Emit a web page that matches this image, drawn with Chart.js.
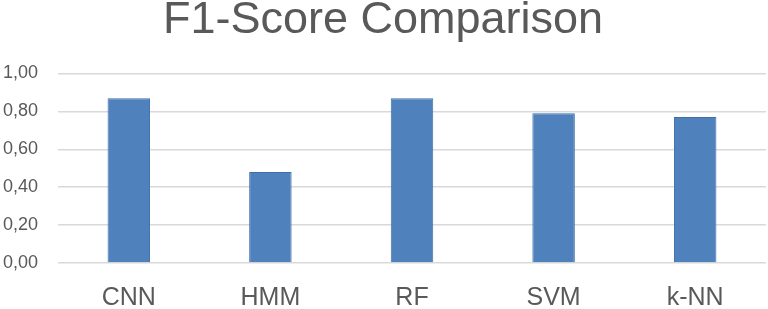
<!DOCTYPE html>
<html>
<head>
<meta charset="utf-8">
<script src="https://cdn.jsdelivr.net/npm/chart.js@4/dist/chart.umd.min.js"></script>
<style>
 html,body{margin:0;padding:0;background:#fff;}
 #wrap{width:768px;height:309px;}
</style>
</head>
<body>
<div id="wrap"><canvas id="chart"></canvas></div>
<script>
const categories=['CNN','HMM','RF','SVM','k-NN'];
const f1Scores=[0.87,0.48,0.87,0.79,0.77];
const yTicks=[0,0.2,0.4,0.6,0.8,1.0];

const textColor='#595959';
const font='Liberation Sans, Arial, sans-serif';

new Chart(document.getElementById('chart'),{
 type:'bar',
 data:{
  labels:categories,
  datasets:[{
   label:'F1-Score',
   data:f1Scores,
   backgroundColor:'#4f81bd',
   borderColor:'#3f6fa9',
   borderWidth:1,
   barPercentage:0.3,
   categoryPercentage:1
  }]
 },
 options:{
  responsive:true,
  maintainAspectRatio:false,
  animation:false,
  layout:{padding:{left:0,right:2,top:0,bottom:0}},
  plugins:{
   legend:{display:false},
   tooltip:{enabled:false},
   title:{
    display:true,
    text:'F1-Score Comparison',
    color:textColor,
    font:{family:font,size:45,weight:'normal',lineHeight:0.9},
    padding:{top:0,bottom:33}
   }
  },
  scales:{
   x:{
    grid:{display:false},
    border:{display:false},
    afterFit:s=>{s.height=46;},
    ticks:{
     color:textColor,
     padding:12,
     font:{family:font,size:25}
    }
   },
   y:{
    min:0,
    max:1,
    afterBuildTicks:axis=>{axis.ticks=yTicks.map(v=>({value:v}));},
    afterFit:s=>{s.width=58;},
    grid:{color:'#d9d9d9',lineWidth:1.5,drawTicks:false},
    border:{display:false},
    ticks:{
     color:textColor,
     padding:20,
     font:{family:font,size:18},
     callback:v=>v.toFixed(2).replace('.',',')
    }
   }
  }
 }
});
</script>
</body>
</html>
